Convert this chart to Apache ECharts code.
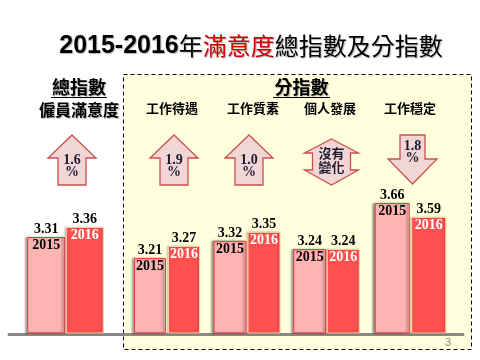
<!DOCTYPE html>
<html><head><meta charset="utf-8">
<script src="https://cdn.jsdelivr.net/npm/echarts@6/dist/echarts.min.js"></script>
<style>html,body{margin:0;padding:0;background:#fff}#c{width:480px;height:360px}</style>
</head><body><div id="c"></div>
<script>
// ---- data ----
const groups = ['僱員滿意度', '工作待遇', '工作質素', '個人發展', '工作穩定'];
const years = ['2015', '2016'];
const values2015 = [3.31, 3.21, 3.32, 3.24, 3.66];
const values2016 = [3.36, 3.27, 3.35, 3.24, 3.59];
const changeText = ['1.6\n%', '1.9\n%', '1.0\n%', '沒有\n變化', '1.8\n%'];
const changeDir = ['up', 'up', 'up', 'same', 'down'];

// ---- layout (not data) ----
const gridLeft = [27, 133, 213, 293, 374];
const gridWidth = [77, 68, 68, 67, 73];
const barW = [38, 32, 33, 33, 35];
const yMin = [2.83, 2.835, 3.013, 2.82, 3.01];
const ySpan = [1, 1, 0.6667, 1, 1];
const arrowX = [72, 174, 249, 331.5, 412.5];
const headerX = [79, 172, 253, 330, 410];

const serif = 'Liberation Serif';
const cjk = 'Noto Sans CJK TC';

const grids = [], xAxes = [], yAxes = [], series = [];
for (let i = 0; i < groups.length; i++) {
  grids.push({left: gridLeft[i], width: gridWidth[i], bottom: 27, height: 200});
  xAxes.push({type: 'category', gridIndex: i, data: years, show: false});
  yAxes.push({type: 'value', gridIndex: i, min: yMin[i], max: yMin[i] + ySpan[i], show: false});
  const mk = (v, j) => ({
    value: v,
    itemStyle: j === 0
      ? {color: '#FFB3B3', borderColor: '#E8403C', borderWidth: 1, shadowColor: 'rgba(0,0,0,0.4)', shadowBlur: 2, shadowOffsetX: -2}
      : {color: '#FF5050', borderColor: '#FFD0A0', borderWidth: 1, shadowColor: 'rgba(0,0,0,0.25)', shadowBlur: 2, shadowOffsetX: -1}
  });
  series.push({
    type: 'bar', xAxisIndex: i, yAxisIndex: i, barWidth: barW[i],
    data: [mk(values2015[i], 0), mk(values2016[i], 1)],
    label: {
      show: true, position: 'insideTop', distance: 0, offset: [0, -15],
      formatter: p => '{v|' + p.value.toFixed(2) + '}\n{' + (p.dataIndex ? 'b' : 'a') + '|' + years[p.dataIndex] + '}',
      rich: {
        v: {fontFamily: serif, fontWeight: 'bold', fontSize: 14, color: '#000', lineHeight: 15},
        a: {fontFamily: serif, fontWeight: 'bold', fontSize: 14, color: '#000', lineHeight: 16},
        b: {fontFamily: serif, fontWeight: 'bold', fontSize: 14, color: '#fff', lineHeight: 16}
      }
    },
    emphasis: {disabled: true}, silent: true, animation: false
  });
}
// baseline grid
grids.push({left: 9, right: 17, bottom: 26, top: 120});
xAxes.push({type: 'category', gridIndex: 5, data: [], axisLine: {show: true, lineStyle: {color: '#888', width: 3}}, axisTick: {show: false}, axisLabel: {show: false}, z: 1});
yAxes.push({type: 'value', gridIndex: 5, show: false});

// ---- graphics ----
const fillA = '#F2D6D5', strokeA = '#C8504D';
function arrowPts(dir, cx) {
  if (dir === 'up') return [[cx,135],[cx+24,158],[cx+14,158],[cx+14,185],[cx-14,185],[cx-14,158],[cx-24,158]];
  if (dir === 'down') return [[cx-12.5,135],[cx+12.5,135],[cx+12.5,159],[cx+24.5,159],[cx,184],[cx-24.5,159],[cx-12.5,159]];
  return [[cx,139],[cx+27,153],[cx+19,153],[cx+19,170],[cx+27,170],[cx,185],[cx-27,170],[cx-19,170],[cx-19,153],[cx-27,153]];
}
const sh = {textShadowColor: 'rgba(0,0,0,0.3)', textShadowOffsetX: 1, textShadowOffsetY: 1, textShadowBlur: 1};
const graphic = [
  {type: 'rect', z: -10, shape: {x: 123.5, y: 74.5, width: 348, height: 275}, style: {fill: '#FFFFDD', stroke: '#000', lineWidth: 1, lineDash: [4, 3]}},
  {type: 'text', z: 10, x: 251, y: 46, style: {
    text: '{a|2015-2016}{b|年}{c|滿意度}{b|總指數及分指數}', align: 'center', verticalAlign: 'middle',
    rich: {
      a: Object.assign({fontFamily: 'Liberation Sans', fontWeight: 'bold', fontSize: 25, fill: '#000'}, sh),
      b: Object.assign({fontFamily: cjk, fontSize: 24, fill: '#000'}, sh),
      c: Object.assign({fontFamily: cjk, fontSize: 24, fill: '#D00000'}, sh)
    }}},
  {type: 'text', z: 10, x: 79, y: 87, style: Object.assign({text: '總指數', font: 'bold 18px "' + cjk + '"', fill: '#000', align: 'center', verticalAlign: 'middle'}, sh)},
  {type: 'line', z: 10, shape: {x1: 51, y1: 97.5, x2: 107, y2: 97.5}, style: {stroke: '#000', lineWidth: 1}},
  {type: 'text', z: 10, x: 301.5, y: 87, style: Object.assign({text: '分指數', font: 'bold 18px "' + cjk + '"', fill: '#000', align: 'center', verticalAlign: 'middle'}, sh)},
  {type: 'line', z: 10, shape: {x1: 273, y1: 97.5, x2: 330, y2: 97.5}, style: {stroke: '#000', lineWidth: 1}},
  {type: 'text', z: 10, x: 448, y: 343, style: {text: '3', font: '11px "Liberation Sans"', fill: '#888', align: 'center', verticalAlign: 'middle'}}
];
for (let i = 0; i < groups.length; i++) {
  graphic.push({type: 'text', z: 10, x: headerX[i], y: i === 0 ? 110 : 108, style: Object.assign({
    text: groups[i], font: 'bold ' + (i === 0 ? 16 : 13) + 'px "' + cjk + '"', fill: '#000', align: 'center', verticalAlign: 'middle'}, i === 0 ? sh : {})});
  graphic.push({type: 'polygon', z: 9, shape: {points: arrowPts(changeDir[i], arrowX[i])}, style: {fill: fillA, stroke: strokeA, lineWidth: 1.3}});
  const isCjk = changeDir[i] === 'same';
  graphic.push({type: 'text', z: 10, x: arrowX[i], y: changeDir[i] === 'down' ? 152 : (isCjk ? 160 : 166), style: {
    text: changeText[i], font: (isCjk ? 'bold 13px "' + cjk + '"' : 'bold 14px "' + serif + '"'),
    lineHeight: isCjk ? 14 : 12, fill: '#1a1a30', align: 'center', verticalAlign: 'middle'}});
}

const chart = echarts.init(document.getElementById('c'), null, {renderer: 'canvas'});
chart.setOption({animation: false, grid: grids, xAxis: xAxes, yAxis: yAxes, series: series, graphic: graphic});
</script></body></html>
